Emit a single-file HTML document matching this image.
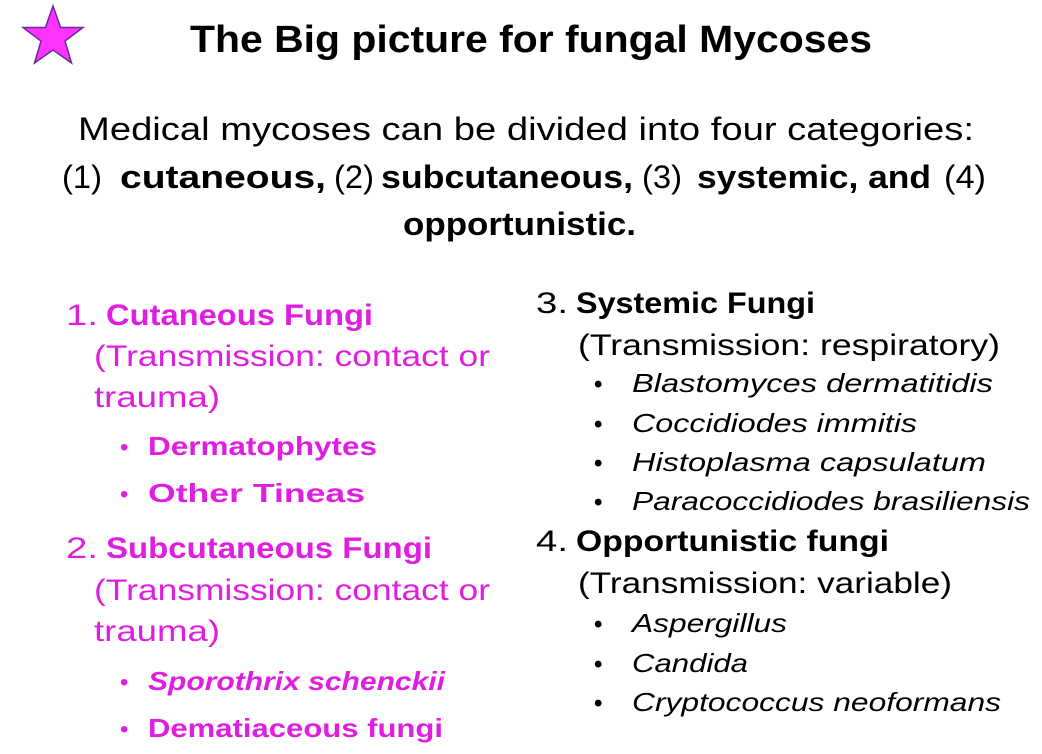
<!DOCTYPE html>
<html><head><meta charset="utf-8"><style>
html,body{margin:0;padding:0;background:#fff;}
svg{display:block;font-family:"Liberation Sans",Arial,sans-serif;}
.p{fill:#e01ee0;}
</style></head><body>
<svg width="1042" height="754" viewBox="0 0 1042 754">
<polygon points="53,6 60.6,27.5 83,27.5 65,41 71.5,63 53,50 34.5,63 41,41 23,27.5 45.4,27.5" fill="#ff33ff" stroke="#6a2a9a" stroke-width="1.5"/>
<text x="190" y="52" font-size="38" font-weight="bold" textLength="682" lengthAdjust="spacingAndGlyphs">The Big picture for fungal Mycoses</text>
<g font-size="32">
<text x="78" y="140" textLength="896" lengthAdjust="spacingAndGlyphs">Medical mycoses can be divided into four categories:</text>
<text y="188"><tspan x="62" textLength="40" lengthAdjust="spacingAndGlyphs">(1)</tspan><tspan x="120" font-weight="bold" textLength="206" lengthAdjust="spacingAndGlyphs">cutaneous,</tspan><tspan x="334" textLength="40" lengthAdjust="spacingAndGlyphs">(2)</tspan><tspan x="381" font-weight="bold" textLength="252" lengthAdjust="spacingAndGlyphs">subcutaneous,</tspan><tspan x="642" textLength="40" lengthAdjust="spacingAndGlyphs">(3)</tspan><tspan x="697" font-weight="bold" textLength="234" lengthAdjust="spacingAndGlyphs">systemic, and</tspan><tspan x="944" textLength="42" lengthAdjust="spacingAndGlyphs">(4)</tspan></text>
<text x="403" y="235" font-weight="bold" textLength="233" lengthAdjust="spacingAndGlyphs">opportunistic.</text>
</g>
<g class="p">
<text y="325" font-size="30"><tspan x="66" textLength="32" lengthAdjust="spacingAndGlyphs">1.</tspan><tspan x="106" font-weight="bold" textLength="267" lengthAdjust="spacingAndGlyphs">Cutaneous Fungi</tspan></text>
<text x="94" y="366" font-size="30" textLength="396" lengthAdjust="spacingAndGlyphs">(Transmission: contact or</text>
<text x="94" y="407" font-size="30" textLength="126" lengthAdjust="spacingAndGlyphs">trauma)</text>
<text x="120" y="455" font-size="24">•</text>
<text x="148" y="455" font-size="26" font-weight="bold" textLength="229" lengthAdjust="spacingAndGlyphs">Dermatophytes</text>
<text x="120" y="502" font-size="24">•</text>
<text x="148" y="502" font-size="26" font-weight="bold" textLength="217" lengthAdjust="spacingAndGlyphs">Other Tineas</text>
<text y="558" font-size="30"><tspan x="66" textLength="32" lengthAdjust="spacingAndGlyphs">2.</tspan><tspan x="106" font-weight="bold" textLength="326" lengthAdjust="spacingAndGlyphs">Subcutaneous Fungi</tspan></text>
<text x="94" y="600" font-size="30" textLength="396" lengthAdjust="spacingAndGlyphs">(Transmission: contact or</text>
<text x="94" y="641" font-size="30" textLength="126" lengthAdjust="spacingAndGlyphs">trauma)</text>
<text x="120" y="690" font-size="24">•</text>
<text x="148" y="690" font-size="26" font-weight="bold" font-style="italic" textLength="297" lengthAdjust="spacingAndGlyphs">Sporothrix schenckii</text>
<text x="120" y="737" font-size="24">•</text>
<text x="148" y="737" font-size="26" font-weight="bold" textLength="295" lengthAdjust="spacingAndGlyphs">Dematiaceous fungi</text>
</g>
<g fill="#000">
<text y="313" font-size="30"><tspan x="536" textLength="32" lengthAdjust="spacingAndGlyphs">3.</tspan><tspan x="576" font-weight="bold" textLength="239" lengthAdjust="spacingAndGlyphs">Systemic Fungi</tspan></text>
<text x="578" y="355" font-size="30" textLength="422" lengthAdjust="spacingAndGlyphs">(Transmission: respiratory)</text>
<g font-size="26" font-style="italic">
<text x="594" y="392" font-style="normal" font-weight="bold" font-size="24">•</text><text x="632" y="392" textLength="361" lengthAdjust="spacingAndGlyphs">Blastomyces dermatitidis</text>
<text x="594" y="432" font-style="normal" font-weight="bold" font-size="24">•</text><text x="632" y="432" textLength="285" lengthAdjust="spacingAndGlyphs">Coccidiodes immitis</text>
<text x="594" y="471" font-style="normal" font-weight="bold" font-size="24">•</text><text x="632" y="471" textLength="354" lengthAdjust="spacingAndGlyphs">Histoplasma capsulatum</text>
<text x="594" y="510" font-style="normal" font-weight="bold" font-size="24">•</text><text x="632" y="510" textLength="398" lengthAdjust="spacingAndGlyphs">Paracoccidiodes brasiliensis</text>
</g>
<text y="551" font-size="30"><tspan x="536" textLength="32" lengthAdjust="spacingAndGlyphs">4.</tspan><tspan x="576" font-weight="bold" textLength="313" lengthAdjust="spacingAndGlyphs">Opportunistic fungi</tspan></text>
<text x="578" y="593" font-size="30" textLength="374" lengthAdjust="spacingAndGlyphs">(Transmission: variable)</text>
<g font-size="26" font-style="italic">
<text x="594" y="632" font-style="normal" font-weight="bold" font-size="24">•</text><text x="632" y="632" textLength="155" lengthAdjust="spacingAndGlyphs">Aspergillus</text>
<text x="594" y="672" font-style="normal" font-weight="bold" font-size="24">•</text><text x="632" y="672" textLength="116" lengthAdjust="spacingAndGlyphs">Candida</text>
<text x="594" y="711" font-style="normal" font-weight="bold" font-size="24">•</text><text x="632" y="711" textLength="369" lengthAdjust="spacingAndGlyphs">Cryptococcus neoformans</text>
</g>
</g>
</svg>
</body></html>
